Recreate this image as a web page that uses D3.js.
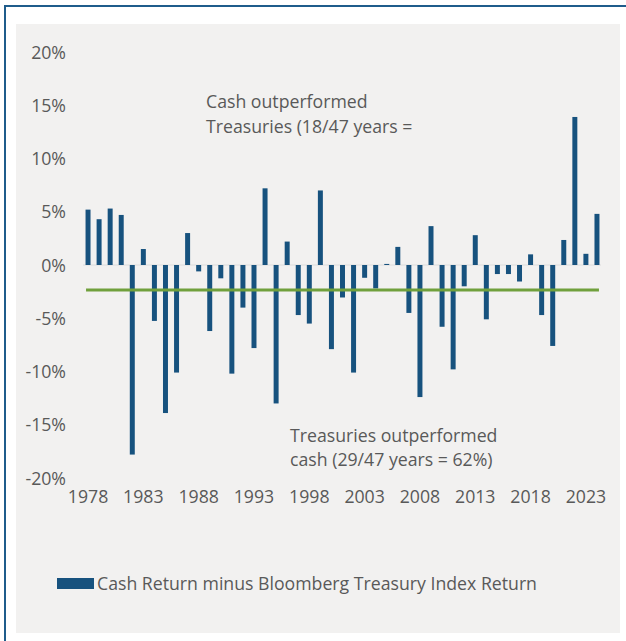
<!DOCTYPE html>
<html>
<head>
<meta charset="utf-8">
<script src="https://cdnjs.cloudflare.com/ajax/libs/d3/7.8.5/d3.min.js"></script>
<style>
  html, body { margin: 0; padding: 0; background: #ffffff; }
  svg text { font-family: "Open Sans", "Noto Sans", sans-serif; fill: #595959; }
</style>
</head>
<body>
<div id="chart"></div>
<script>
// data
const years = d3.range(1978, 2025);
const cash_minus_treasury = [
  5.2, 4.3, 5.3, 4.7, -17.8, 1.5, -5.25, -13.9, -10.1, 3.0,
  -0.6, -6.2, -1.25, -10.2, -4.0, -7.8, 7.2, -13.0, 2.2, -4.7,
  -5.5, 7.0, -7.9, -3.05, -10.1, -1.2, -2.2, 0.1, 1.7, -4.5,
  -12.4, 3.65, -5.8, -9.8, -2.0, 2.8, -5.1, -0.85, -0.85, -1.55,
  1.0, -4.7, -7.6, 2.35, 13.9, 1.05, 4.8
];
const average_value = -2.35;
const y_ticks = [-20, -15, -10, -5, 0, 5, 10, 15, 20];
const x_ticks = [1978, 1983, 1988, 1993, 1998, 2003, 2008, 2013, 2018, 2023];
const legend_label = "Cash Return minus Bloomberg Treasury Index Return";
const note_top = ["Cash outperformed", "Treasuries (18/47 years ="];
const note_bottom = ["Treasuries outperformed", "cash (29/47 years = 62%)"];

const width = 626, height = 641;
const bar_color = "#17527e";
const avg_color = "#70a03c";
const font_size = "17.7px";

const svg = d3.select("#chart").append("svg")
  .attr("width", width)
  .attr("height", height);

// frame
svg.append("rect").attr("x", 16).attr("y", 24).attr("width", 604).attr("height", 609)
  .attr("fill", "#f2f1f0");
svg.append("line").attr("x1", 5).attr("y1", 6).attr("x2", 5).attr("y2", height)
  .attr("stroke", "#1f5c8b").attr("stroke-width", 2);
svg.append("line").attr("x1", 4).attr("y1", 6).attr("x2", width).attr("y2", 6)
  .attr("stroke", "#1f5c8b").attr("stroke-width", 2);

const x_scale = d3.scaleBand()
  .domain(years)
  .range([82.5, 602.5])
  .paddingInner(0.55)
  .paddingOuter(0.275);

const y_scale = d3.scaleLinear()
  .domain([-20, 20])
  .range([478, 52]);

// y axis labels
const y_axis = svg.append("g")
  .attr("transform", "translate(66,0)")
  .call(d3.axisLeft(y_scale).tickValues(y_ticks).tickSize(0).tickPadding(0)
    .tickFormat(d => d + "%"));
y_axis.select(".domain").remove();
y_axis.selectAll("text").style("font-size", font_size).attr("dy", "0.35em");

// x axis labels
const x_axis = svg.append("g")
  .attr("transform", "translate(0,490)")
  .call(d3.axisBottom(x_scale).tickValues(x_ticks).tickSize(0).tickPadding(0));
x_axis.select(".domain").remove();
x_axis.selectAll("text").style("font-size", font_size).attr("dy", "0.72em");

// zero line
svg.append("line")
  .attr("x1", 83).attr("x2", 601)
  .attr("y1", y_scale(0)).attr("y2", y_scale(0))
  .attr("stroke", "#dcdcdc").attr("stroke-width", 1);

// bars
svg.append("g").selectAll("rect")
  .data(years.map((yr, i) => ({ year: yr, value: cash_minus_treasury[i] })))
  .enter()
  .append("rect")
    .attr("x", d => x_scale(d.year))
    .attr("width", x_scale.bandwidth())
    .attr("y", d => y_scale(Math.max(0, d.value)))
    .attr("height", d => Math.abs(y_scale(d.value) - y_scale(0)))
    .attr("fill", bar_color);

// average line
svg.append("line")
  .attr("x1", x_scale(years[0]) + 0.5)
  .attr("x2", x_scale(years[years.length - 1]) + x_scale.bandwidth() - 0.5)
  .attr("y1", y_scale(average_value)).attr("y2", y_scale(average_value))
  .attr("stroke", avg_color).attr("stroke-width", 3);

// annotations
const top_note = svg.append("text").attr("x", 206).attr("y", 108).style("font-size", font_size);
note_top.forEach((t, i) => top_note.append("tspan").attr("x", 206).attr("dy", i ? 25 : 0).text(t));
const bottom_note = svg.append("text").attr("x", 290).attr("y", 442).style("font-size", font_size);
note_bottom.forEach((t, i) => bottom_note.append("tspan").attr("x", 290).attr("dy", i ? 24 : 0).text(t));

// legend
svg.append("rect").attr("x", 57).attr("y", 578).attr("width", 37).attr("height", 11)
  .attr("fill", bar_color);
svg.append("text").attr("x", 97).attr("y", 590).style("font-size", font_size).text(legend_label);
</script>
</body>
</html>
